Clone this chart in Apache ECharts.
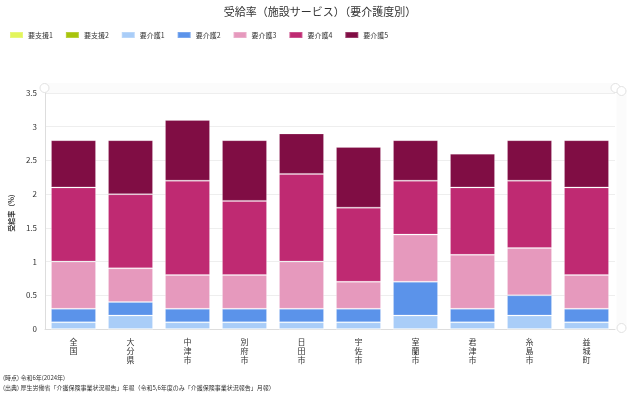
<!DOCTYPE html>
<html>
<head>
<meta charset="utf-8">
<script src="https://cdn.jsdelivr.net/npm/echarts@6/dist/echarts.min.js"></script>
<style>
html, body { margin: 0; padding: 0; background: #fff; }
#chart { width: 640px; height: 398px; }
</style>
</head>
<body>
<div id="chart"></div>
<script>
// 地域
const categories = ["全国", "大分県", "中津市", "別府市", "日田市", "宇佐市", "室蘭市", "君津市", "糸島市", "益城町"];
// 受給率（%）要介護度別
const shien1 = [0, 0, 0, 0, 0, 0, 0, 0, 0, 0];
const shien2 = [0, 0, 0, 0, 0, 0, 0, 0, 0, 0];
const kaigo1 = [0.1, 0.2, 0.1, 0.1, 0.1, 0.1, 0.2, 0.1, 0.2, 0.1];
const kaigo2 = [0.2, 0.2, 0.2, 0.2, 0.2, 0.2, 0.5, 0.2, 0.3, 0.2];
const kaigo3 = [0.7, 0.5, 0.5, 0.5, 0.7, 0.4, 0.7, 0.8, 0.7, 0.5];
const kaigo4 = [1.1, 1.1, 1.4, 1.1, 1.3, 1.1, 0.8, 1.0, 1.0, 1.3];
const kaigo5 = [0.7, 0.8, 0.9, 0.9, 0.6, 0.9, 0.6, 0.5, 0.6, 0.7];
const yTicks = [0, 0.5, 1, 1.5, 2, 2.5, 3, 3.5];

const font = "'Noto Sans CJK JP', sans-serif";
const chart = echarts.init(document.getElementById("chart"));

const seriesList = [
  { name: "要支援1", data: shien1, color: "#e3f55c" },
  { name: "要支援2", data: shien2, color: "#a8c40c" },
  { name: "要介護1", data: kaigo1, color: "#a9cdf8" },
  { name: "要介護2", data: kaigo2, color: "#5b93ea" },
  { name: "要介護3", data: kaigo3, color: "#e699bd" },
  { name: "要介護4", data: kaigo4, color: "#bf2a72" },
  { name: "要介護5", data: kaigo5, color: "#800d44" }
];

const sliderStyle = {
  type: "slider",
  showDetail: false,
  showDataShadow: false,
  brushSelect: false,
  backgroundColor: "#fbfbfb",
  borderColor: "rgba(0,0,0,0)",
  fillerColor: "rgba(0,0,0,0)",
  handleIcon: "circle",
  handleSize: 9,
  handleStyle: { color: "#fff", borderColor: "#e2e2e2", borderWidth: 1 },
  moveHandleSize: 0
};

chart.setOption({
  animation: false,
  textStyle: { fontFamily: font },
  title: {
    text: "受給率（施設サービス）（要介護度別）",
    left: "center",
    top: 1,
    textStyle: { fontSize: 11, fontWeight: "normal", color: "#333", fontFamily: font }
  },
  legend: {
    left: 4,
    top: 26,
    itemWidth: 13,
    itemHeight: 6,
    itemGap: 12,
    icon: "rect",
    textStyle: { fontSize: 7, color: "#333", fontFamily: font },
    data: seriesList.map(s => s.name)
  },
  grid: {
    left: 42,
    right: 25,
    top: 93,
    bottom: 69
  },
  dataZoom: [
    Object.assign({}, sliderStyle, {
      xAxisIndex: 0,
      top: 83,
      height: 10,
      left: 42,
      right: 25
    }),
    Object.assign({}, sliderStyle, {
      yAxisIndex: 0,
      right: 14,
      width: 10,
      top: 90,
      bottom: 69
    })
  ],
  xAxis: {
    type: "category",
    data: categories,
    axisLine: { lineStyle: { color: "#ddd" } },
    axisTick: { alignWithLabel: true, length: 4, lineStyle: { color: "#ccc" } },
    axisLabel: {
      interval: 0,
      fontSize: 8,
      lineHeight: 9,
      color: "#333",
      margin: 8,
      formatter: function(param) {
        return param.split("").join("\n");
      }
    }
  },
  yAxis: {
    type: "value",
    min: 0,
    max: 3.5,
    interval: 0.5,
    name: "受給率（%）",
    nameLocation: "middle",
    nameRotate: 90,
    nameGap: 22,
    nameTextStyle: { fontSize: 7, fontWeight: "bold", color: "#333", fontFamily: font },
    axisLine: { show: true, lineStyle: { color: "#ddd" } },
    axisTick: { show: false },
    axisLabel: {
      fontSize: 8,
      color: "#333",
      formatter: v => (yTicks.indexOf(v) >= 0 ? String(v) : "")
    },
    splitLine: { lineStyle: { color: "#eee" } }
  },
  series: seriesList.map(s => ({
    name: s.name,
    type: "bar",
    stack: "total",
    barCategoryGap: "21%",
    itemStyle: {
      color: s.color,
      borderColor: "rgba(255,255,255,0.2)",
      borderWidth: 1
    },
    data: s.data
  }))
});
</script>
<div style="position:absolute;left:3px;top:373px;font-family:'Noto Sans CJK JP',sans-serif;font-size:6px;color:#333;line-height:10px;">
  <div>(時点) 令和6年(2024年)</div>
  <div>(出典) 厚生労働省「介護保険事業状況報告」年報（令和5,6年度のみ「介護保険事業状況報告」月報）</div>
</div>
</body>
</html>
